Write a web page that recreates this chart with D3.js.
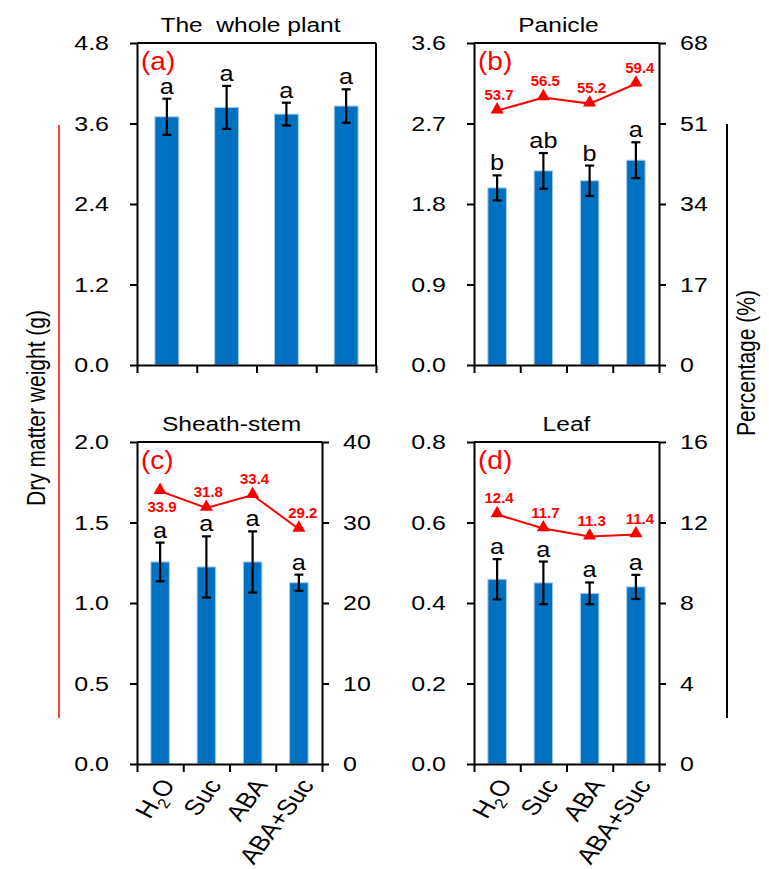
<!DOCTYPE html>
<html>
<head>
<meta charset="utf-8">
<script src="https://cdn.jsdelivr.net/npm/d3@7"></script>
<style>
  body { margin: 0; background: #fff; }
  svg { display: block; font-family: "Liberation Sans", Arial, sans-serif; }
</style>
</head>
<body>
<script>
// Treatments on the x axis
const treatments = ["H2O", "Suc", "ABA", "ABA+Suc"];

// Whole plant dry weight (g)
const wholeMean = [3.70, 3.84, 3.74, 3.86];
const wholeErr  = [0.27, 0.32, 0.17, 0.25];
const wholeSig  = ["a", "a", "a", "a"];
const wholeTicks = [0, 1.2, 2.4, 3.6, 4.8];

// Panicle dry weight (g) and share of the plant (%)
const panicleMean = [1.98, 2.17, 2.06, 2.29];
const panicleErr  = [0.14, 0.20, 0.17, 0.20];
const panicleSig  = ["b", "ab", "b", "a"];
const paniclePct  = [53.7, 56.5, 55.2, 59.4];
const panicleTicks = [0, 0.9, 1.8, 2.7, 3.6];
const paniclePctTicks = [0, 17, 34, 51, 68];

// Sheath-stem dry weight (g) and share (%)
const sheathMean = [1.255, 1.224, 1.255, 1.126];
const sheathErr  = [0.12, 0.19, 0.19, 0.05];
const sheathSig  = ["a", "a", "a", "a"];
const sheathPct  = [33.9, 31.8, 33.4, 29.2];
const sheathTicks = [0, 0.5, 1.0, 1.5, 2.0];
const sheathPctTicks = [0, 10, 20, 30, 40];

// Leaf dry weight (g) and share (%)
const leafMean = [0.459, 0.450, 0.424, 0.440];
const leafErr  = [0.05, 0.053, 0.027, 0.03];
const leafSig  = ["a", "a", "a", "a"];
const leafPct  = [12.4, 11.7, 11.3, 11.4];
const leafTicks = [0, 0.2, 0.4, 0.6, 0.8];
const leafPctTicks = [0, 4, 8, 12, 16];

const W = 769, H = 869;
const BAR = "#0070c0", BAR_EDGE = "#a9cbec", RED = "#ff0000";
const SX = 1.22; // horizontal widening of glyphs

const svg = d3.select("body").append("svg").attr("width", W).attr("height", H);

const panels = [
  { tag: "(a)", title: "The  whole plant", mean: wholeMean, err: wholeErr, sig: wholeSig,
    pct: null, ticks: wholeTicks, x0: 137, x1: 376, y0: 43, y1: 365, titleDx: -6, xLabels: false },
  { tag: "(b)", title: "Panicle", mean: panicleMean, err: panicleErr, sig: panicleSig,
    pct: paniclePct, pctTicks: paniclePctTicks, ticks: panicleTicks, x0: 474, x1: 659, y0: 43, y1: 365,
    titleDx: -8, xLabels: false, below: [] },
  { tag: "(c)", title: "Sheath-stem", mean: sheathMean, err: sheathErr, sig: sheathSig,
    pct: sheathPct, pctTicks: sheathPctTicks, ticks: sheathTicks, x0: 137, x1: 322, y0: 442, y1: 764,
    titleDx: 2, xLabels: true, below: [0] },
  { tag: "(d)", title: "Leaf", mean: leafMean, err: leafErr, sig: leafSig,
    pct: leafPct, pctTicks: leafPctTicks, ticks: leafTicks, x0: 474, x1: 659, y0: 442, y1: 764,
    titleDx: 0, xLabels: true, below: [] }
];

function styleAxis(g) {
  g.selectAll("path, line").attr("stroke", "#000").attr("stroke-width", 2);
  g.selectAll("text").attr("font-size", 20.5).attr("fill", "#000")
    .attr("font-family", "'Liberation Sans', Arial, sans-serif");
}

panels.forEach(p => {
  const g = svg.append("g");
  const yMax = p.ticks[p.ticks.length - 1];
  const y = d3.scaleLinear().domain([0, yMax]).range([p.y1, p.y0]);
  const xb = d3.scaleBand().domain(treatments).range([p.x0, p.x1])
    .paddingInner(0.6).paddingOuter(0.3);
  const xl = d3.scaleLinear().domain([0, treatments.length]).range([p.x0, p.x1]);
  const cx = t => xb(t) + xb.bandwidth() / 2;
  const fmt = d3.format(".1f");

  // bars
  g.selectAll("rect.bar").data(treatments).join("rect")
    .attr("x", t => xb(t))
    .attr("y", (t, i) => y(p.mean[i]))
    .attr("width", xb.bandwidth())
    .attr("height", (t, i) => y(0) - y(p.mean[i]))
    .attr("fill", BAR).attr("stroke", BAR_EDGE).attr("stroke-width", 1);

  // error bars and significance letters
  const cap = 4.5;
  treatments.forEach((t, i) => {
    const hi = y(p.mean[i] + p.err[i]), lo = y(p.mean[i] - p.err[i]), x = cx(t);
    const e = g.append("g").attr("stroke", "#000").attr("stroke-width", 2.2);
    e.append("line").attr("x1", x).attr("x2", x).attr("y1", hi).attr("y2", lo);
    e.append("line").attr("x1", x - cap).attr("x2", x + cap).attr("y1", hi).attr("y2", hi);
    e.append("line").attr("x1", x - cap).attr("x2", x + cap).attr("y1", lo).attr("y2", lo);
    g.append("text")
      .attr("transform", `translate(${x},${hi - 5}) scale(1.15,1)`)
      .attr("text-anchor", "middle").attr("font-size", 22).attr("fill", "#000")
      .text(p.sig[i]);
  });

  // left axis
  const la = g.append("g").attr("transform", `translate(${p.x0},0)`)
    .call(d3.axisLeft(y).tickValues(p.ticks).tickSize(7).tickSizeOuter(0).tickFormat(fmt));
  styleAxis(la);
  la.selectAll("text").attr("x", -28 / SX).attr("transform", `scale(${SX},1)`);

  // bottom axis: ticks on band boundaries
  const ba = g.append("g").attr("transform", `translate(0,${p.y1})`)
    .call(d3.axisBottom(xl).tickValues(d3.range(treatments.length + 1)).tickSize(8)
      .tickSizeOuter(0).tickFormat(""));
  styleAxis(ba);

  // top border
  g.append("line").attr("x1", p.x0).attr("x2", p.x1).attr("y1", p.y0).attr("y2", p.y0)
    .attr("stroke", "#000").attr("stroke-width", 2);

  if (p.pct) {
    const yr = d3.scaleLinear().domain([0, p.pctTicks[p.pctTicks.length - 1]]).range([p.y1, p.y0]);
    const ra = g.append("g").attr("transform", `translate(${p.x1},0)`)
      .call(d3.axisRight(yr).tickValues(p.pctTicks).tickSize(7).tickSizeOuter(0));
    styleAxis(ra);
    ra.selectAll("text").attr("x", 21 / SX).attr("transform", `scale(${SX},1)`);

    // percentage line with triangle markers
    g.append("path").datum(p.pct)
      .attr("d", d3.line().x((d, i) => cx(treatments[i])).y(d => yr(d)))
      .attr("fill", "none").attr("stroke", RED).attr("stroke-width", 2);
    g.selectAll("path.tri").data(p.pct).join("path")
      .attr("transform", (d, i) => `translate(${cx(treatments[i])},${yr(d) - 1})`)
      .attr("d", d3.symbol(d3.symbolTriangle, 75))
      .attr("fill", RED);
    g.selectAll("text.pct").data(p.pct).join("text")
      .attr("x", (d, i) => cx(treatments[i]) + (i === 3 ? 4 : 2))
      .attr("y", (d, i) => p.below.includes(i) ? yr(d) + 21 : yr(d) - 11)
      .attr("text-anchor", "middle").attr("font-size", 15).attr("font-weight", "bold")
      .attr("fill", RED).text(d => fmt(d));
  } else {
    g.append("line").attr("x1", p.x1).attr("x2", p.x1).attr("y1", p.y0).attr("y2", p.y1)
      .attr("stroke", "#000").attr("stroke-width", 2);
  }

  // panel tag
  g.append("text")
    .attr("transform", `translate(${p.x0 + 4},${p.y0 + 27}) scale(1.12,1)`)
    .attr("font-size", 25).attr("fill", RED).text(p.tag);

  // panel title
  g.append("text")
    .attr("transform", `translate(${(p.x0 + p.x1) / 2 + p.titleDx},${p.y0 - 11}) scale(1.17,1)`)
    .attr("text-anchor", "middle").attr("font-size", 21).attr("fill", "#000")
    .style("white-space", "pre").text(p.title);

  // treatment labels
  if (p.xLabels) {
    treatments.forEach(t => {
      const lbl = g.append("text")
        .attr("transform", `translate(${cx(t) + 8},${p.y1 + 17}) scale(${SX},1) rotate(-58)`)
        .attr("text-anchor", "end").attr("dy", "0.35em")
        .attr("font-size", 22).attr("fill", "#000");
      if (t === "H2O") {
        lbl.append("tspan").text("H");
        lbl.append("tspan").attr("font-size", 14).attr("dy", 6).text("2");
        lbl.append("tspan").attr("dy", -6).text("O");
      } else {
        lbl.text(t);
      }
    });
  }
});

// shared axis titles and bracket lines
svg.append("line").attr("x1", 59).attr("x2", 59).attr("y1", 125).attr("y2", 718)
  .attr("stroke", RED).attr("stroke-width", 1.5);
svg.append("text").attr("transform", `translate(36,408) scale(${SX},1) rotate(-90)`)
  .attr("text-anchor", "middle").attr("dy", "0.35em").attr("font-size", 21).attr("fill", "#000")
  .text("Dry matter weight (g)");

svg.append("line").attr("x1", 727).attr("x2", 727).attr("y1", 124).attr("y2", 718)
  .attr("stroke", "#000").attr("stroke-width", 2);
svg.append("text").attr("transform", `translate(746,363) scale(${SX},1) rotate(-90)`)
  .attr("text-anchor", "middle").attr("dy", "0.35em").attr("font-size", 21).attr("fill", "#000")
  .text("Percentage (%)");
</script>
</body>
</html>
